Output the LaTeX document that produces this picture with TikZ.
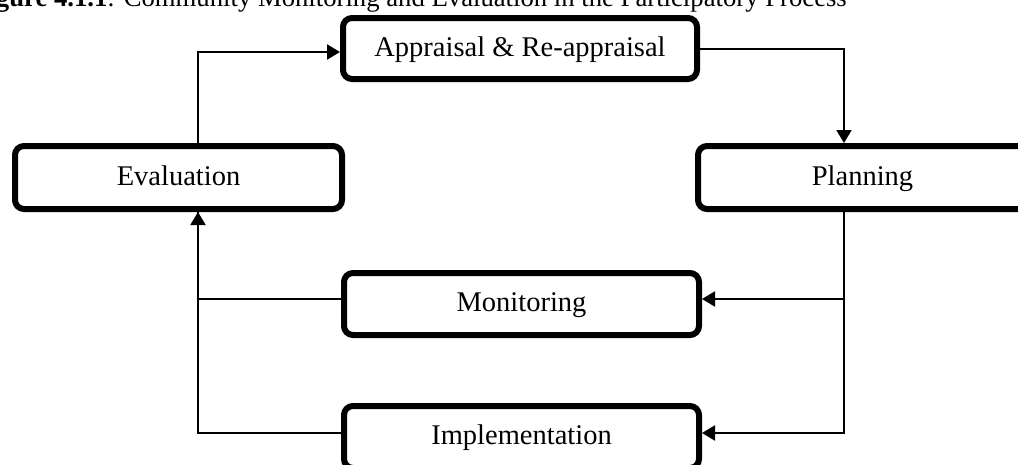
\documentclass[tikz,border=0pt]{standalone}
\usepackage{fontspec}
\setmainfont{Liberation Serif}
\usetikzlibrary{arrows.meta}
\tikzset{
  box/.style={draw=black, line width=6pt, rounded corners=9pt, fill=white,
    font=\fontsize{28.5}{34}\selectfont, text height=18pt, text depth=3pt,
    inner sep=0pt},
  conn/.style={draw=black, line width=2pt},
  arr/.style={conn, -{Triangle[length=13pt,width=15pt]}},
  titlefont/.style={font=\fontsize{26.7}{32}\selectfont}
}
\begin{document}
\begin{tikzpicture}[x=1pt,y=-1pt]
\useasboundingbox (0,0) rectangle (1018,464);
\node[anchor=base east, titlefont, inner sep=0pt] (title) at (847,6)
  {\textbf{Figure 4.1.1}: Community Monitoring and Evaluation in the Participatory Process};
\node[box, minimum width=354pt, minimum height=61pt] (appr) at (520,48.5) {Appraisal \& Re-appraisal};
\node[box, minimum width=327pt, minimum height=63pt] (eval) at (178.5,177.5) {Evaluation};
\node[box, minimum width=329pt, minimum height=63pt] (plan) at (862.5,177.5) {Planning};
\node[box, minimum width=355pt, minimum height=62pt] (mon) at (521.5,304) {Monitoring};
\node[box, minimum width=355pt, minimum height=62pt] (impl) at (521.5,437) {Implementation};
\draw[arr] ([xshift=19.5pt]eval.north) |- ([yshift=-3.5pt]appr.west);
\draw[arr] ([yshift=-0.5pt]appr.east) -| ([xshift=-18.5pt]plan.north);
\draw[arr] ([xshift=-18.5pt]plan.south) |- ([yshift=5pt]mon.east);
\draw[arr] ([xshift=-18.5pt]plan.south) |- ([yshift=4pt]impl.east);
\draw[conn] ([yshift=5pt]mon.west) -| ([xshift=19.5pt]eval.south);
\draw[arr] ([yshift=4pt]impl.west) -| ([xshift=19.5pt]eval.south);
\end{tikzpicture}
\end{document}
